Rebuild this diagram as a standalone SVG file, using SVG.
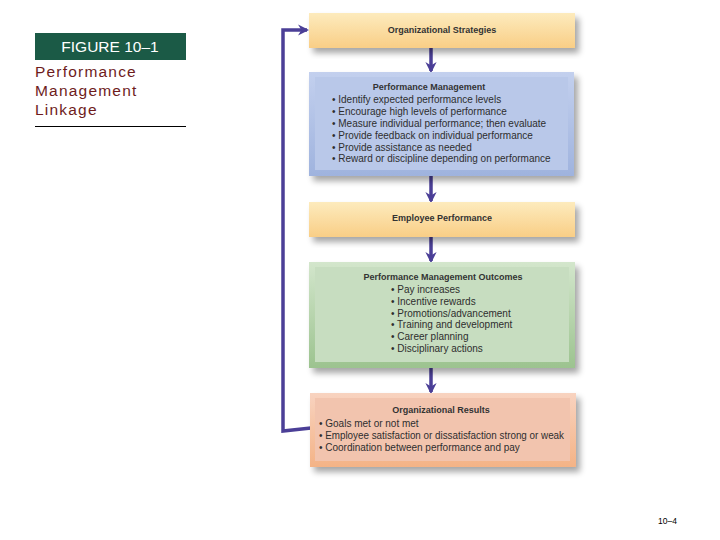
<svg xmlns="http://www.w3.org/2000/svg" width="720" height="540" viewBox="0 0 720 540">
<defs>
<style>
.t{font-family:"Liberation Sans",Arial,sans-serif;font-size:10px;fill:#2e2e2e}
.b{font-weight:bold;font-size:9px;fill:#333}
.lbl{font-family:"Liberation Sans",Arial,sans-serif;font-size:15.5px;letter-spacing:1.2px;fill:#6e1c1c}
.con{fill:none;stroke:#4b3f97;stroke-width:3.5}
</style>
<filter id="sh" x="-10%" y="-20%" width="125%" height="150%">
<feGaussianBlur in="SourceAlpha" stdDeviation="3"/>
<feOffset dx="4" dy="5"/>
<feComponentTransfer><feFuncA type="linear" slope="0.35"/></feComponentTransfer>
<feMerge><feMergeNode/><feMergeNode in="SourceGraphic"/></feMerge>
</filter>
<linearGradient id="gy" x1="0" y1="0" x2="0" y2="1"><stop offset="0" stop-color="#fdebbd"/><stop offset="1" stop-color="#f9ce86"/></linearGradient>
<linearGradient id="gb" x1="0" y1="0" x2="0" y2="1"><stop offset="0" stop-color="#c3d0ee"/><stop offset="1" stop-color="#9fb3de"/></linearGradient>
<linearGradient id="gg" x1="0" y1="0" x2="0" y2="1"><stop offset="0" stop-color="#d3e6cc"/><stop offset="1" stop-color="#9cc38f"/></linearGradient>
<linearGradient id="gp" x1="0" y1="0" x2="0" y2="1"><stop offset="0" stop-color="#f8d3c0"/><stop offset="1" stop-color="#f4b386"/></linearGradient>
<marker id="ah" viewBox="0 0 10 10" refX="8" refY="5" markerWidth="3.2" markerHeight="3.2" orient="auto"><path d="M0,0 L10,5 L0,10 L3,5 z" fill="#4b3f97"/></marker>
</defs>
<rect width="720" height="540" fill="#ffffff"/>

<g id="figure-label">
<rect x="35" y="33" width="151" height="27" fill="#1b5a46"/>
<text x="110" y="52" text-anchor="middle" font-family="Liberation Sans,Arial,sans-serif" font-size="15.5" fill="#ffffff">FIGURE 10–1</text>
<text class="lbl" x="35" y="77">Performance</text>
<text class="lbl" x="35" y="96">Management</text>
<text class="lbl" x="35" y="115">Linkage</text>
<line x1="35" y1="126.5" x2="186" y2="126.5" stroke="#000" stroke-width="1"/>
</g>

<g id="connectors">
<line class="con" x1="431" y1="48" x2="431" y2="71" marker-end="url(#ah)"/>
<line class="con" x1="431" y1="176" x2="431" y2="201" marker-end="url(#ah)"/>
<line class="con" x1="431" y1="237" x2="431" y2="261" marker-end="url(#ah)"/>
<line class="con" x1="431" y1="368" x2="431" y2="392" marker-end="url(#ah)"/>
<path class="con" d="M311,428 L283,431 L283,30 L307,30" stroke-width="4" marker-end="url(#ah)"/>
</g>

<g id="org-strategies">
<rect x="309" y="13" width="266" height="35" fill="url(#gy)" filter="url(#sh)"/>
<text class="t b" x="442" y="33" text-anchor="middle">Organizational Strategies</text>
</g>

<g id="performance-management">
<rect x="309" y="72" width="265" height="104" fill="url(#gb)" filter="url(#sh)"/>
<rect x="315" y="77" width="253" height="93" fill="#b9c8e9"/>
<text class="t b" x="429" y="90" text-anchor="middle">Performance Management</text>
<text class="t" x="332" y="103">• Identify expected performance levels</text>
<text class="t" x="332" y="115">• Encourage high levels of performance</text>
<text class="t" x="332" y="127">• Measure individual performance; then evaluate</text>
<text class="t" x="332" y="139">• Provide feedback on individual performance</text>
<text class="t" x="332" y="151">• Provide assistance as needed</text>
<text class="t" x="332" y="162">• Reward or discipline depending on performance</text>
</g>

<g id="employee-performance">
<rect x="309" y="202" width="266" height="35" fill="url(#gy)" filter="url(#sh)"/>
<text class="t b" x="442" y="221" text-anchor="middle">Employee Performance</text>
</g>

<g id="pm-outcomes">
<rect x="309" y="262" width="266" height="106" fill="url(#gg)" filter="url(#sh)"/>
<rect x="315" y="267" width="254" height="95" fill="#c7ddc0"/>
<text class="t b" x="443" y="280" text-anchor="middle">Performance Management Outcomes</text>
<text class="t" x="391" y="293">• Pay increases</text>
<text class="t" x="391" y="305">• Incentive rewards</text>
<text class="t" x="391" y="317">• Promotions/advancement</text>
<text class="t" x="391" y="328">• Training and development</text>
<text class="t" x="391" y="340">• Career planning</text>
<text class="t" x="391" y="352">• Disciplinary actions</text>
</g>

<g id="org-results">
<rect x="310" y="393" width="266" height="74" fill="url(#gp)" filter="url(#sh)"/>
<rect x="315" y="398" width="255" height="63" fill="#f2c4ae"/>
<text class="t b" x="441" y="413" text-anchor="middle">Organizational Results</text>
<text class="t" x="319" y="427">• Goals met or not met</text>
<text class="t" x="319" y="439" textLength="245" lengthAdjust="spacingAndGlyphs">• Employee satisfaction or dissatisfaction strong or weak</text>
<text class="t" x="319" y="451">• Coordination between performance and pay</text>
</g>

<text x="658" y="524" font-family="Liberation Sans,Arial,sans-serif" font-size="8.5" fill="#000">10–4</text>
</svg>
